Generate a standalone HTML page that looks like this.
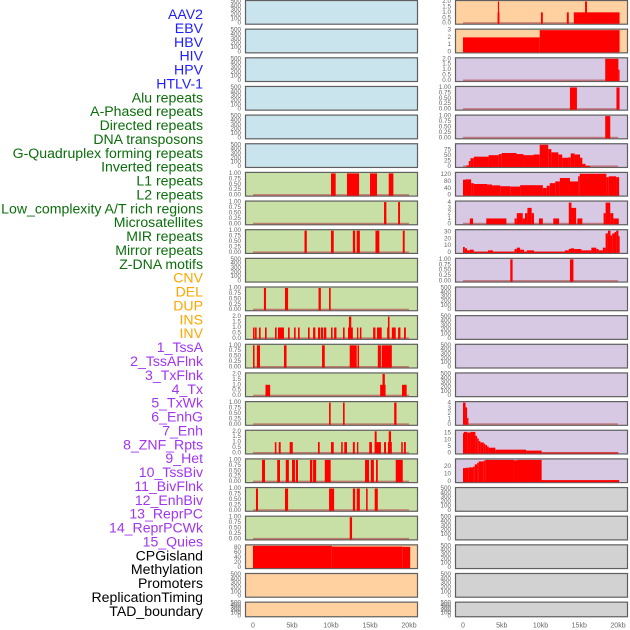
<!DOCTYPE html>
<html><head><meta charset="utf-8"><style>
html,body{margin:0;padding:0;background:#fff;}
svg{display:block;font-family:"Liberation Sans",sans-serif;}
</style></head><body>
<svg id="chart" width="630" height="630" viewBox="0 0 630 630" xmlns="http://www.w3.org/2000/svg"></svg>
<script>
// ---- data ----
const trackLabels = ["AAV2","EBV","HBV","HIV","HPV","HTLV-1","Alu repeats","A-Phased repeats","Directed repeats","DNA transposons","G-Quadruplex forming repeats","Inverted repeats","L1 repeats","L2 repeats","Low_complexity A/T rich regions","Microsatellites","MIR repeats","Mirror repeats","Z-DNA motifs","CNV","DEL","DUP","INS","INV","1_TssA","2_TssAFlnk","3_TxFlnk","4_Tx","5_TxWk","6_EnhG","7_Enh","8_ZNF_Rpts","9_Het","10_TssBiv","11_BivFlnk","12_EnhBiv","13_ReprPC","14_ReprPCWk","15_Quies","CPGisland","Methylation","Promoters","ReplicationTiming","TAD_boundary"];
const labelGroups = ["virus","virus","virus","virus","virus","virus","repeat","repeat","repeat","repeat","repeat","repeat","repeat","repeat","repeat","repeat","repeat","repeat","repeat","sv","sv","sv","sv","sv","chrom","chrom","chrom","chrom","chrom","chrom","chrom","chrom","chrom","chrom","chrom","chrom","chrom","chrom","chrom","other","other","other","other","other"];
const xTickKb = [0,5,10,15,20];
const xTickLabels = ["0","5kb","10kb","15kb","20kb"];
const ticks500 = [0,100,200,300,400,500];
const ticks1 = [0,0.25,0.5,0.75,1];
const ticks2 = [0,0.5,1,1.5,2];
const ticks3 = [0,1,2,3];
const ticks4 = [0,1,2,3,4];
const ticks75 = [0,25,50,75];
const ticks120 = [0,40,80,120];
const ticks30 = [0,10,20,30];
const ticks15 = [0,5,10,15];
const ticks20 = [0,10,20];
const ticks80 = [0,20,40,60,80];

// segments: [startKb, endKb, value]
const L6 = [[10.0,10.6,1],[12.05,13.6,1],[15.0,15.9,1],[17.4,18.0,1]];
const L7 = [[16.8,17.1,1],[18.6,18.85,1]];
const L8 = [[6.6,6.9,1],[10.0,10.35,1],[12.8,13.1,1],[13.3,13.7,1],[15.7,16.2,1],[19.2,19.45,1]];
const L10 = [[1.4,1.67,1],[4.1,4.5,1],[8.4,8.7,1],[9.75,9.96,1]];
const L11 = [[0.0,0.2,1],[0.26,0.47,1],[0.77,0.98,1],[1.54,1.75,1],[2.82,3.03,1],[3.2,3.97,1],[4.49,4.7,1],[5.26,5.47,1],[5.77,5.98,1],[7.05,7.26,1],[7.7,8.0,1],[8.33,8.6,1],[8.7,9.0,1],[9.1,9.4,1],[10.0,10.2,1],[10.4,10.7,1],[11.54,11.75,1],[12.18,12.8,1],[12.3,12.6,2],[13.33,13.5,1],[13.7,13.9,1],[15.4,15.7,1],[15.9,16.5,1],[17.2,17.5,1],[17.3,17.5,2],[17.8,18.3,1],[18.6,18.9,1],[19.36,19.6,1]];
const L12 = [[0.0,0.2,1],[0.5,0.9,1],[3.97,4.3,1],[8.85,9.2,1],[12.4,13.3,1],[13.4,13.6,1],[16.0,16.4,1],[16.5,17.8,1]];
const L13 = [[1.6,2.2,1],[16.3,17.0,1],[16.6,16.9,2],[19.1,19.7,1]];
const L14 = [[9.75,9.96,1],[11.54,11.75,1],[18.1,18.4,1]];
const L15 = [[2.8,3.0,1],[3.3,3.55,1],[4.7,5.1,1],[8.33,8.55,1],[10.0,10.35,1],[11.3,11.5,1],[11.7,12.05,1],[12.8,13.05,1],[13.33,13.5,1],[14.9,15.25,1],[15.6,16.4,1],[15.6,15.85,2],[16.8,17.05,1],[17.3,17.8,1],[17.4,17.7,2],[19.0,19.2,1],[19.36,19.6,1]];
const L16 = [[1.15,1.54,1],[3.1,3.46,1],[4.2,4.6,1],[5.0,5.38,1],[5.5,5.77,1],[7.3,7.6,1],[7.7,8.1,1],[9.2,9.96,1],[14.36,14.87,1],[15.1,15.5,1],[15.77,16.0,1],[18.3,19.2,1]];
const L17 = [[0.38,0.64,1],[4.1,4.5,1],[9.75,10.4,1],[12.8,13.1,1],[13.3,13.7,1],[14.5,14.7,1],[15.6,16.0,1]];
const L18 = [[12.4,12.7,1]];
const L19 = [[0,10.1,86],[10.1,19.2,83],[19.2,20.15,82]];
const R0 = [[4.46,4.7,1],[4.5,4.65,2],[10.06,10.3,1],[13.4,13.65,1],[14.3,20.2,1],[15.75,16.0,2]];
const R1 = [[0,9.9,2],[9.9,20.2,3]];
const R2 = [[18.35,20.05,2],[20.05,20.2,1]];
const R3 = [[13.8,14.7,1],[19.8,20.2,1]];
const R4 = [[18.35,19.0,1]];
const R5 = [[0.45,0.75,5],[0.75,0.96,25],[0.96,1.39,38],[1.39,3.3,45],[3.3,4.6,52],[4.6,5.0,57],[5.0,6.9,62],[6.9,7.8,57],[7.8,9.1,52],[9.1,9.9,55],[9.9,11.0,100],[11.0,11.4,80],[11.4,12.3,65],[12.3,12.8,55],[12.8,13.6,40],[13.6,13.9,42],[13.9,14.4,60],[14.4,15.1,55],[15.1,15.4,40],[15.4,15.8,12],[15.8,16.4,3]];
const R6 = [[0,0.32,90],[0.32,1.05,92],[1.05,1.39,70],[1.39,3.1,65],[3.1,3.74,62],[3.74,4.8,57],[4.8,6.1,52],[6.1,7.37,50],[7.37,10.3,58],[10.3,10.8,42],[10.8,11.2,55],[11.2,11.9,70],[11.9,12.5,80],[12.5,13.8,100],[13.8,14.85,80],[14.85,15.07,110],[15.07,18.5,125],[18.5,18.8,105],[18.8,19.75,110],[19.75,20.15,105]];
const R7 = [[0.88,1.3,1],[3.0,5.6,1],[6.65,6.94,1],[6.94,7.71,2],[7.71,8.0,1],[8.0,8.31,2],[8.31,8.86,3],[8.86,9.16,2],[9.8,10.3,1],[11.65,12.4,1],[13.65,14.0,4],[14.0,14.6,3],[14.76,15.4,1],[18.14,18.4,2],[18.4,19.0,4],[19.0,19.4,2],[19.4,20.1,1]];
const R8 = [[0,0.23,8],[0.23,0.53,6],[0.53,0.88,3],[0.88,1.39,4],[1.39,3.23,1],[3.23,3.87,3],[3.87,6.65,1],[6.65,6.94,5],[6.94,7.37,7],[7.37,7.88,4],[7.88,8.23,1],[8.23,9.17,3],[9.17,13.14,1],[13.14,13.65,3],[13.65,13.87,5],[13.87,14.34,6],[14.34,15.27,5],[15.27,16.56,3],[16.56,17.2,7],[17.2,17.5,5],[17.5,18.05,3],[18.05,18.4,7],[18.4,18.7,28],[18.7,19.03,32],[19.03,19.25,25],[19.25,19.55,28],[19.55,19.76,30],[19.76,20.06,32],[20.06,20.15,24]];
const R9 = [[6.1,6.4,1],[13.8,14.25,1]];
const R14 = [[0,0.33,4.1],[0.33,0.53,3.2],[0.53,0.7,1.2]];
const R15 = [[0,0.11,15],[0.11,0.53,16],[0.53,0.96,15.5],[0.96,1.6,16],[1.6,1.82,13],[1.82,2.03,11],[2.03,2.24,9],[2.24,2.67,8],[2.67,2.88,7],[2.88,3.1,6],[3.1,3.31,5],[3.31,4.17,4],[4.17,8.14,2.5],[8.14,10.15,1.8],[10.15,20.06,0.3]];
const R16 = [[0,0.32,18],[0.32,0.75,18.5],[0.75,1.3,19],[1.3,1.52,20],[1.52,1.82,23],[1.82,2.03,25],[2.03,2.67,27],[2.67,2.88,28],[2.88,6.52,29],[6.52,7.03,28.5],[7.03,10.15,29],[10.15,20.15,2]];

// panel layout: [column, row, background key, data, ticks, domainMax]
const panelSpecs = [
 [0,0,"b",null,ticks500,500],[0,1,"b",null,ticks500,500],[0,2,"b",null,ticks500,500],[0,3,"b",null,ticks500,500],[0,4,"b",null,ticks500,500],[0,5,"b",null,ticks500,500],
 [0,6,"g",L6,ticks1,1],[0,7,"g",L7,ticks1,1],[0,8,"g",L8,ticks1,1],[0,9,"g",null,ticks500,500],[0,10,"g",L10,ticks1,1],[0,11,"g",L11,ticks2,2],
 [0,12,"g",L12,ticks1,1],[0,13,"g",L13,ticks2,2],[0,14,"g",L14,ticks1,1],[0,15,"g",L15,ticks2,2],[0,16,"g",L16,ticks1,1],[0,17,"g",L17,ticks1,1],[0,18,"g",L18,ticks1,1],
 [0,19,"o",L19,ticks80,86],[0,20,"o",null,ticks500,500],[0,21,"o",null,ticks500,500],
 [1,0,"o",R0,ticks2,2],[1,1,"o",R1,ticks3,3],[1,2,"p",R2,ticks2,2],[1,3,"p",R3,ticks1,1],[1,4,"p",R4,ticks1,1],[1,5,"p",R5,ticks75,100],[1,6,"p",R6,ticks120,127],
 [1,7,"p",R7,ticks4,4.1],[1,8,"p",R8,ticks30,32],[1,9,"p",R9,ticks1,1],[1,10,"p",null,ticks500,500],[1,11,"p",null,ticks500,500],[1,12,"p",null,ticks500,500],[1,13,"p",null,ticks500,500],
 [1,14,"p",R14,ticks4,4.1],[1,15,"p",R15,ticks15,16.5],[1,16,"p",R16,ticks20,29],
 [1,17,"k",null,ticks500,500],[1,18,"k",null,ticks500,500],[1,19,"k",null,ticks500,500],[1,20,"k",null,ticks500,500],[1,21,"k",null,ticks500,500]
];

// ---- rendering ----
const NS = "http://www.w3.org/2000/svg";
const svg = document.getElementById("chart");
const bgColors = {b:"#c9e4ec",g:"#c8e0a5",o:"#ffd0a0",p:"#d7c8e3",k:"#d2d2d2"};
const labelColors = {virus:"#1e1eff",repeat:"#0b6e0b",sv:"#ffa500",chrom:"#a036f0",other:"#000000"};
const colBoxX = [245,455], colBoxW = 172;
const colX0 = [253,463], kbPx = [7.8,7.75];
const rowPitch = 28.65;
function xScale(col, kb){ return colX0[col] + kb*kbPx[col]; }
function rowTop(r){ return r*rowPitch; }
function rowH(r){ return r===21 ? 15.6 : 24.7; }
function mk(tag, attrs){ const e=document.createElementNS(NS,tag); for(const k in attrs) e.setAttribute(k,attrs[k]); return e; }
function fmt(t, ticks){
  const mx = ticks[ticks.length-1];
  if (mx===1) return t.toFixed(2);
  if (mx===2) return t.toFixed(1);
  return String(t);
}

trackLabels.forEach((lab,i)=>{
  const t = mk("text",{x:203,y:14+i*13.88,"text-anchor":"end","dominant-baseline":"central","font-size":"14.1",fill:labelColors[labelGroups[i]]});
  t.textContent = lab;
  
  
  svg.appendChild(t);
});

panelSpecs.forEach(spec=>{
  const [col,row,bg,data,ticks,dmax] = spec;
  const top = rowTop(row), h = rowH(row);
  const g = mk("g",{});
  
  
  svg.appendChild(g);
  const rect = mk("rect",{x:colBoxX[col]+0.5,y:top+0.5,width:colBoxW,height:h-1,fill:bgColors[bg],stroke:"#5f5f5f","stroke-width":1.2});
  
  
  g.appendChild(rect);
  const y0 = top + h - 1.5, y1 = top + 1.5;
  const yScale = v => y0 - (v/dmax)*(y0-y1);
  ticks.forEach(t=>{
    const tl = mk("text",{x:colBoxX[col]-4,y:yScale(t),"text-anchor":"end","dominant-baseline":"central","font-size":"6.3",fill:"#666"});
    tl.textContent = fmt(t,ticks);
    
    
    g.appendChild(tl);
  });
  if (data){
    const base = mk("rect",{x:xScale(col,0),y:y0-1,width:xScale(col,20)-xScale(col,0),height:1.6,fill:"#b85555","fill-opacity":0.7});
    
    
    g.appendChild(base);
    data.forEach(d=>{
      const xa = xScale(col,d[0]), xb = xScale(col,d[1]);
      const yt = yScale(d[2]);
      const bar = mk("rect",{x:xa,y:yt,width:Math.max(1.2,xb-xa),height:y0-yt+0.5,fill:"#ff0000"});
      
      
      g.appendChild(bar);
    });
  }
});

[0,1].forEach(col=>{
  xTickKb.forEach((kb,i)=>{
    const t = mk("text",{x:xScale(col,kb),y:626,"text-anchor":"middle","dominant-baseline":"central","font-size":"7",fill:"#666"});
    t.textContent = xTickLabels[i];
    
    
    svg.appendChild(t);
  });
});
</script>
</body></html>
